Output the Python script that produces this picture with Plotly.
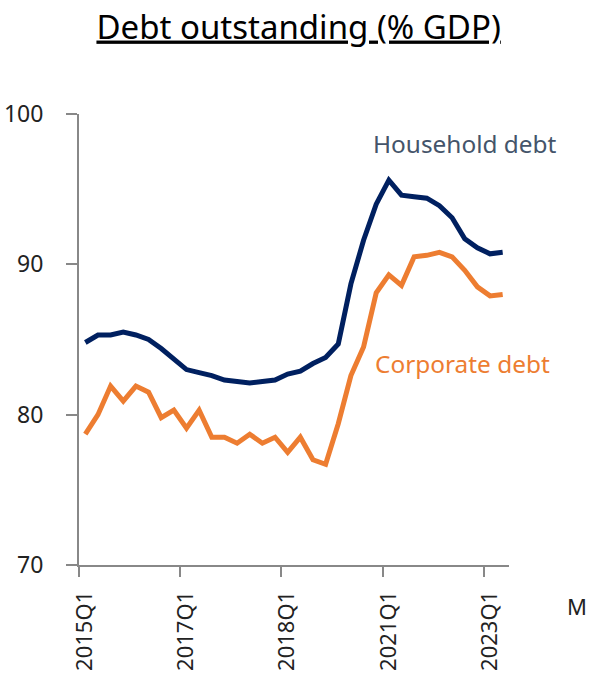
import plotly.graph_objects as go

# Quarterly observations (34 periods)
household_debt = [84.8, 85.3, 85.3, 85.5, 85.3, 85.0, 84.4, 83.7, 83.0, 82.8,
                  82.6, 82.3, 82.2, 82.1, 82.2, 82.3, 82.7, 82.9, 83.4, 83.8,
                  84.7, 88.7, 91.6, 94.0, 95.6, 94.6, 94.5, 94.4, 93.9, 93.1,
                  91.7, 91.1, 90.7, 90.8]
corporate_debt = [78.7, 80.0, 81.9, 80.9, 81.9, 81.5, 79.8, 80.3, 79.1, 80.3,
                  78.5, 78.5, 78.1, 78.7, 78.1, 78.5, 77.5, 78.5, 77.0, 76.7,
                  79.4, 82.6, 84.5, 88.1, 89.3, 88.6, 90.5, 90.6, 90.8, 90.5,
                  89.6, 88.5, 87.9, 88.0]
tick_labels = ["2015Q1", "2017Q1", "2018Q1", "2021Q1", "2023Q1"]
tick_every = 8
y_ticks = [70, 80, 90, 100]

n = len(household_debt)
x_pos = [i + 0.5 for i in range(n)]
tick_vals = [i * tick_every for i in range(len(tick_labels))]

FONT = "Noto Sans"
NAVY = "#002060"
ORANGE = "#ED7D31"

fig = go.Figure()
fig.add_trace(go.Scatter(x=x_pos, y=household_debt, mode="lines",
                         line=dict(color=NAVY, width=5), name="Household debt"))
fig.add_trace(go.Scatter(x=x_pos, y=corporate_debt, mode="lines",
                         line=dict(color=ORANGE, width=5), name="Corporate debt"))

fig.update_layout(
    width=589, height=678,
    margin=dict(l=79, r=80, t=114, b=113, autoexpand=False),
    paper_bgcolor="white", plot_bgcolor="white",
    showlegend=False,
    font=dict(family=FONT, color="#222222"),
    title=dict(text="<u>Debt outstanding (% GDP)</u>", xref="container", yref="container",
               x=0.507, xanchor="center", y=1 - 27 / 678, yanchor="middle",
               font=dict(family=FONT, size=33, color="black")),
)

fig.update_xaxes(
    range=[0, n], tickmode="array", tickvals=tick_vals, ticktext=tick_labels,
    tickangle=-90, ticks="outside", ticklen=10, tickwidth=2, tickcolor="#888888",
    showline=True, linecolor="#888888", linewidth=2, showgrid=False, zeroline=False,
    tickfont=dict(family=FONT, size=22, color="#222222"), ticklabelstandoff=5,
    ticklabelshift=6, automargin=False,
)
fig.update_yaxes(
    range=[70, 100], tickmode="array", tickvals=y_ticks,
    ticks="outside", ticklen=11, tickwidth=2, tickcolor="#888888",
    showline=True, linecolor="#888888", linewidth=2, showgrid=False, zeroline=False,
    tickfont=dict(family=FONT, size=23, color="#222222"), ticklabelstandoff=18,
    automargin=False,
)

fig.add_annotation(text="Household debt", xref="paper", yref="paper",
                   x=(371 - 79) / 430, y=(565 - 143) / 452, xanchor="left", yanchor="middle",
                   showarrow=False, font=dict(family=FONT, size=24.4, color="#44546A"))
fig.add_annotation(text="Corporate debt", xref="paper", yref="paper",
                   x=(373 - 79) / 430, y=(565 - 363) / 452, xanchor="left", yanchor="middle",
                   showarrow=False, font=dict(family=FONT, size=24.4, color=ORANGE))
fig.add_annotation(text="M", xref="paper", yref="paper",
                   x=(565 - 79) / 430, y=(565 - 606) / 452, xanchor="left", yanchor="middle",
                   showarrow=False, font=dict(family=FONT, size=22, color="#222222"))

fig.write_html("out.html")
